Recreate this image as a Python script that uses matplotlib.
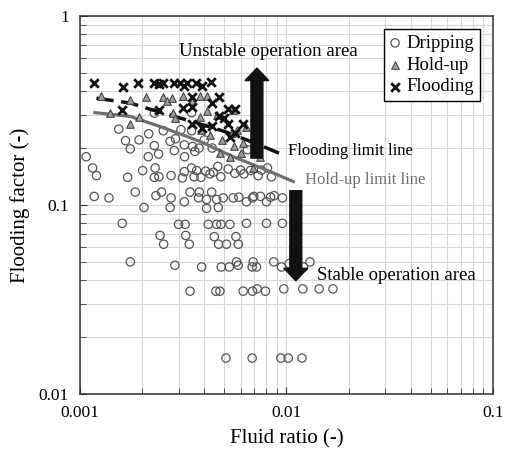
import matplotlib
matplotlib.use('Agg')
import matplotlib.pyplot as plt
from matplotlib.ticker import FixedLocator, FixedFormatter, LogLocator, NullFormatter

plt.rcParams['font.family'] = ['Liberation Serif', 'DejaVu Serif']

# fluid ratio values are in units of 1e-3
drip_x = [1.07, 1.15, 1.20, 1.17, 1.38, 1.60, 1.75, 1.54, 1.66, 1.75, 1.70, 1.85, 1.93, 2.01,
          2.04, 2.15, 2.14, 2.29, 2.29, 2.31, 2.29, 2.33, 2.40, 2.41, 2.48, 2.44, 2.54, 2.53,
          2.73, 2.76, 2.76, 2.73, 2.86, 2.90, 2.88, 3.00, 3.08, 3.20, 3.21, 3.20, 3.13, 3.20,
          3.23, 3.25, 3.38, 3.41, 3.41, 3.47, 3.47, 3.47, 3.51, 3.60, 3.57, 3.67, 3.78, 3.75,
          3.77, 3.85, 3.88, 4.06, 4.10, 4.10, 4.00, 4.18, 4.26, 4.37, 4.34, 4.42, 4.47, 4.55,
          4.59, 4.65, 4.59, 4.67, 4.69, 4.83, 4.76, 4.81, 4.81, 4.94, 5.12, 5.22, 5.32, 5.28,
          5.52, 5.62, 5.69, 5.73, 5.84, 5.84, 5.88, 5.99, 6.17, 6.22, 6.40, 6.40, 6.47, 6.69,
          6.82, 6.85, 6.85, 6.90, 6.95, 7.16, 7.21, 7.29, 7.48, 7.57, 7.91, 8.00, 8.00, 8.09,
          8.37, 8.46, 8.68, 8.72, 9.46, 9.56, 9.56, 9.71, 10.3, 12.0, 12.1, 13.0, 14.4, 16.8,
          5.09, 6.82, 9.39, 10.2, 11.9]
drip_y = [0.180, 0.157, 0.143, 0.111, 0.109, 0.080, 0.050, 0.252, 0.219, 0.198, 0.140, 0.117,
          0.221, 0.152, 0.097, 0.238, 0.180, 0.306, 0.206, 0.157, 0.140, 0.112, 0.186, 0.141,
          0.117, 0.069, 0.062, 0.247, 0.217, 0.143, 0.109, 0.097, 0.194, 0.224, 0.048, 0.079,
          0.250, 0.208, 0.180, 0.150, 0.139, 0.104, 0.079, 0.069, 0.062, 0.117, 0.035, 0.157,
          0.247, 0.308, 0.204, 0.192, 0.141, 0.152, 0.117, 0.109, 0.200, 0.140, 0.047, 0.151,
          0.096, 0.107, 0.221, 0.079, 0.146, 0.200, 0.117, 0.149, 0.068, 0.035, 0.079, 0.160,
          0.107, 0.097, 0.062, 0.047, 0.035, 0.141, 0.079, 0.109, 0.062, 0.155, 0.079, 0.047,
          0.109, 0.147, 0.068, 0.050, 0.048, 0.062, 0.110, 0.153, 0.035, 0.146, 0.080, 0.104,
          0.196, 0.152, 0.047, 0.109, 0.035, 0.050, 0.111, 0.047, 0.036, 0.143, 0.111, 0.153,
          0.035, 0.080, 0.104, 0.157, 0.110, 0.141, 0.050, 0.112, 0.047, 0.109, 0.080, 0.036,
          0.049, 0.036, 0.047, 0.050, 0.036, 0.036, 0.0155, 0.0155, 0.0155, 0.0155, 0.0155]

hold_x = [1.26, 1.40, 1.75, 1.75, 1.93, 2.09, 2.53, 2.63, 2.78, 2.83, 2.88, 3.16, 3.50, 3.81,
          3.81, 3.85, 4.10, 4.13, 4.26, 4.59, 4.79, 4.85, 5.32, 5.42, 5.52, 5.58, 5.77, 5.99,
          6.35, 6.90, 7.48, 6.17]
hold_y = [0.375, 0.308, 0.269, 0.357, 0.291, 0.372, 0.372, 0.353, 0.367, 0.306, 0.288, 0.375,
          0.353, 0.375, 0.291, 0.248, 0.375, 0.315, 0.235, 0.300, 0.188, 0.221, 0.180, 0.240,
          0.319, 0.206, 0.250, 0.188, 0.260, 0.157, 0.180, 0.212]

flood_x = [1.17, 1.61, 1.90, 2.28, 2.42, 2.53, 2.86, 3.05, 3.20, 3.28, 3.63, 3.91, 4.32, 3.47,
           4.71, 4.37, 1.60, 2.42, 3.14, 3.47, 5.22, 5.62, 3.50, 3.91, 4.34, 4.71, 4.97, 5.22,
           6.17, 5.62, 5.32]
flood_y = [0.444, 0.420, 0.441, 0.444, 0.437, 0.444, 0.441, 0.444, 0.427, 0.441, 0.441, 0.427,
           0.448, 0.372, 0.372, 0.348, 0.319, 0.319, 0.325, 0.329, 0.321, 0.321, 0.268, 0.255,
           0.262, 0.294, 0.288, 0.269, 0.269, 0.240, 0.230]

flood_line_x = [1.2, 1.75, 2.4, 3.5, 5.0, 7.0, 9.2]
flood_line_y = [0.367, 0.346, 0.311, 0.276, 0.245, 0.213, 0.188]
hold_line_x = [1.18, 1.75, 2.44, 3.81, 5.52, 8.0, 10.8]
hold_line_y = [0.308, 0.294, 0.260, 0.217, 0.180, 0.153, 0.133]


def s(v):
    return [a * 1e-3 for a in v]


fig = plt.figure(figsize=(5.07, 4.55), dpi=100)
ax = fig.add_axes([0.158, 0.134, 0.814, 0.831])

ax.plot(s(hold_line_x), hold_line_y, color='#707070', lw=2.3, zorder=4)
ax.plot(s(flood_line_x), flood_line_y, color='#111111', lw=2.5, ls=(0, (5, 2.2)), zorder=4)

ax.scatter(s(drip_x), drip_y, s=36, facecolors='none', edgecolors='#555555',
           linewidths=0.9, label='Dripping', zorder=3)
ax.scatter(s(hold_x), hold_y, s=30, marker='^', facecolors='#a0a0a0', edgecolors='#444444',
           linewidths=0.8, label='Hold-up', zorder=5)
ax.scatter(s(flood_x), flood_y, s=38, marker='x', color='#111111', linewidths=2.0,
           label='Flooding', zorder=6)

# arrows
arrow = dict(width=8.6, headwidth=17, headlength=9, facecolor='#111111',
             edgecolor='#111111', shrink=0)
ax.annotate('', xy=(7.19e-3, 0.53), xytext=(7.19e-3, 0.177), arrowprops=arrow, zorder=7)
ax.annotate('', xy=(11.1e-3, 0.0397), xytext=(11.1e-3, 0.119), arrowprops=arrow, zorder=7)

ax.text(8.15e-3, 0.648, 'Unstable operation area', fontsize=13.5, ha='center', va='center')
ax.text(10.2e-3, 0.194, 'Flooding limit line', fontsize=12, ha='left', va='center')
ax.text(12.3e-3, 0.136, 'Hold-up limit line', fontsize=12, ha='left', va='center',
        color='#707070')
ax.text(14.1e-3, 0.0422, 'Stable operation area', fontsize=13.5, ha='left', va='center')

ax.set_xscale('log')
ax.set_yscale('log')
ax.set_xlim(0.001, 0.1)
ax.set_ylim(0.01, 1)

ax.xaxis.set_major_locator(FixedLocator([0.001, 0.01, 0.1]))
ax.xaxis.set_major_formatter(FixedFormatter(['0.001', '0.01', '0.1']))
ax.yaxis.set_major_locator(FixedLocator([0.01, 0.1, 1]))
ax.yaxis.set_major_formatter(FixedFormatter(['0.01', '0.1', '1']))
ax.xaxis.set_minor_locator(LogLocator(base=10, subs=range(2, 10)))
ax.yaxis.set_minor_locator(LogLocator(base=10, subs=range(2, 10)))
ax.xaxis.set_minor_formatter(NullFormatter())
ax.yaxis.set_minor_formatter(NullFormatter())

ax.grid(True, which='both', color='#d8d8d8', lw=0.8)
ax.set_axisbelow(True)
ax.tick_params(which='both', direction='in', labelsize=12.5, color='#333333')
ax.tick_params(which='major', length=5, pad=8)
ax.tick_params(which='minor', length=4)
for sp in ax.spines.values():
    sp.set_color('#333333')
    sp.set_linewidth(1.1)

ax.set_xlabel('Fluid ratio (-)', fontsize=15, labelpad=6)
ax.set_ylabel('Flooding factor (-)', fontsize=15, labelpad=6)

leg = ax.legend(loc='upper right', fontsize=13.5, fancybox=False, framealpha=1,
                edgecolor='black', handlelength=0.6, handletextpad=0.3,
                borderaxespad=0.7, labelspacing=0.25, borderpad=0.3)
leg.get_frame().set_linewidth(1.0)

fig.savefig('out.png', dpi=100)
